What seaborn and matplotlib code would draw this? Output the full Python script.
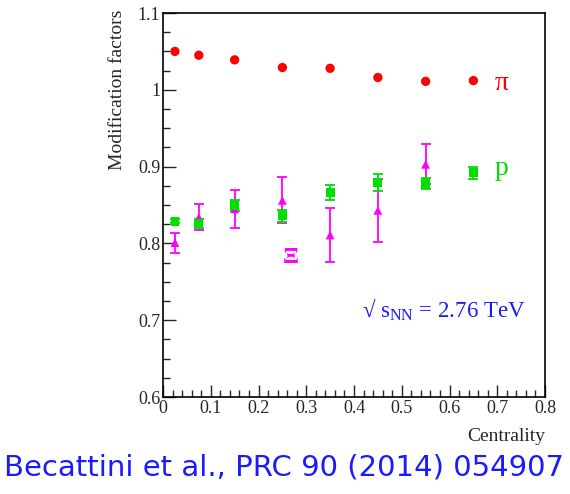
import numpy as np
import pandas as pd
import seaborn as sns
import matplotlib
matplotlib.use("Agg")
import matplotlib.pyplot as plt
from matplotlib.ticker import MultipleLocator

centrality = [0.025, 0.075, 0.15, 0.25, 0.35, 0.45, 0.55, 0.65]
pion = [1.050, 1.045, 1.039, 1.029, 1.028, 1.016, 1.011, 1.012]
proton = [0.829, 0.826, 0.849, 0.836, 0.866, 0.879, 0.878, 0.892]
proton_err = [0.003, 0.006, 0.007, 0.008, 0.010, 0.011, 0.007, 0.008]
xi_cent = [0.025, 0.075, 0.15, 0.25, 0.35, 0.45, 0.55]
xi = [0.801, 0.834, 0.845, 0.856, 0.811, 0.843, 0.903]
xi_err = [0.013, 0.017, 0.025, 0.030, 0.035, 0.041, 0.026]

sns.set_theme(style="ticks")
plt.rcParams['font.family'] = ['Liberation Serif', 'DejaVu Serif']
plt.rcParams['mathtext.fontset'] = 'custom'
plt.rcParams['mathtext.rm'] = 'Liberation Serif'

fig = plt.figure(figsize=(5.70, 4.94), dpi=100)
ax = fig.add_axes([163/570, 1-397/494, (545-163)/570, (397-13)/494])

df_pi = pd.DataFrame({"c": centrality, "v": pion})
df_p = pd.DataFrame({"c": centrality, "v": proton})
df_xi = pd.DataFrame({"c": xi_cent, "v": xi})

ax.errorbar(xi_cent, xi, yerr=xi_err, fmt='none', ecolor='#ff00ff', elinewidth=1.3, capsize=3.5, capthick=1.3, zorder=2)
ax.errorbar(centrality, proton, yerr=proton_err, fmt='none', ecolor='#00dd00', elinewidth=1.3, capsize=3.5, capthick=1.3, zorder=3)
sns.scatterplot(data=df_xi, x="c", y="v", marker='^', color='#ff00ff', s=40, edgecolor='none', ax=ax, zorder=4)
sns.scatterplot(data=df_p, x="c", y="v", marker='s', color='#00e000', s=40, edgecolor='none', ax=ax, zorder=5)
sns.scatterplot(data=df_pi, x="c", y="v", marker='o', color='#ff0000', s=45, edgecolor='none', ax=ax, zorder=6)

ax.set_xlim(0, 0.8)
ax.set_ylim(0.6, 1.1)
ax.xaxis.set_minor_locator(MultipleLocator(0.02))
ax.yaxis.set_minor_locator(MultipleLocator(0.025))
ax.set_xticks(np.arange(0, 0.81, 0.1))
ax.set_xticklabels(['0', '0.1', '0.2', '0.3', '0.4', '0.5', '0.6', '0.7', '0.8'])
ax.set_yticks(np.arange(0.6, 1.11, 0.1))
ax.set_yticklabels(['0.6', '0.7', '0.8', '0.9', '1', '1.1'])
ax.tick_params(which='major', direction='in', length=9, width=1, labelsize=13, top=False, right=False, pad=2)
ax.tick_params(which='minor', direction='in', length=5, width=1, top=False, right=False)
for s in ax.spines.values():
    s.set_linewidth(1.2)
    s.set_color('black')

ax.set_xlabel('')
ax.set_ylabel('')
fig.text(545/570, 1-436/494, 'Centrality', ha='right', va='center', fontsize=14)
fig.text(118/570, 1-90/494, 'Modification factors', ha='center', va='center', rotation=90, fontsize=14)

ax.text(0.71, 1.008, 'π', color='#ff0000', fontsize=20, ha='center', va='center')
ax.text(0.71, 0.897, 'p', color='#00dd00', fontsize=20, ha='center', va='center')
ax.text(0.267, 0.781, 'Ξ', color='#ff00ff', fontsize=17, ha='center', va='center', fontweight='bold')
ax.text(0.588, 0.714, r'√ s$_{\mathrm{NN}}$ = 2.76 TeV', color='#1a1aff', fontsize=16.5, ha='center', va='center')

fig.text(4/570, 1-467/494, 'Becattini et al., PRC 90 (2014) 054907', color='#1a1aff', fontsize=21,
         ha='left', va='center', family=['DejaVu Sans'])

fig.savefig('out.png', dpi=100)
